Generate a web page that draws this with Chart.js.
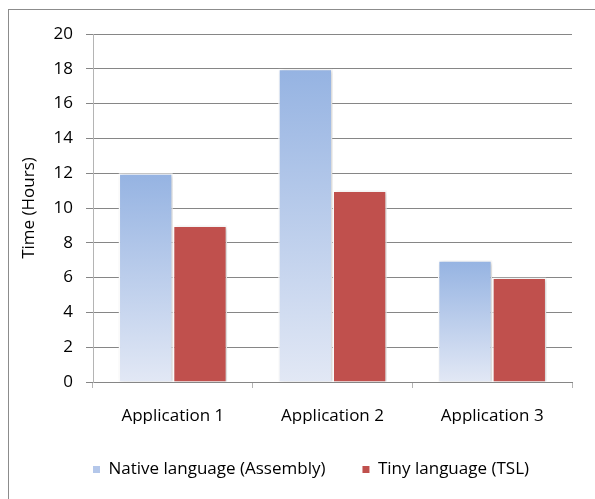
<!DOCTYPE html>
<html>
<head>
<meta charset="utf-8">
<script src="https://cdn.jsdelivr.net/npm/chart.js@4.4.1/dist/chart.umd.min.js"></script>
<style>
  html, body { margin: 0; padding: 0; background: #fff; }
  #wrap { position: relative; width: 595px; height: 499px; }
</style>
</head>
<body>
<div id="wrap"><canvas id="timeChart" width="595" height="499"></canvas></div>
<script>
// --- chart data ---
const categories = ['Application 1', 'Application 2', 'Application 3'];
const seriesNames = ['Native language (Assembly)', 'Tiny language (TSL)'];
const nativeHours = [12, 18, 7];
const tinyHours = [9, 11, 6];
const yTicks = [0, 2, 4, 6, 8, 10, 12, 14, 16, 18, 20];

const font = { family: "'Open Sans', sans-serif", size: 17 };
const gridGray = '#868686';

// blue bars fade from blue at the top to near white at the bottom, per bar
function nativeFill(c) {
  const chart = c.chart;
  const y = chart.scales.y;
  if (!chart.chartArea || !y || c.raw == null) return '#b4c7ea';
  const top = y.getPixelForValue(c.raw);
  const bottom = y.getPixelForValue(0);
  const g = chart.ctx.createLinearGradient(0, top, 0, bottom);
  g.addColorStop(0, '#95b3e2');
  g.addColorStop(1, '#e2e8f5');
  return g;
}

// outer frame, legend nudge, soft bar shadow
const framePlugin = {
  id: 'frame',
  afterLayout(chart) {
    // legend in the original sits a bit right of the plot centre
    chart.legend.left += 25;
    chart.legend.right += 25;
  },
  beforeDraw(chart) {
    const ctx = chart.ctx;
    ctx.save();
    ctx.fillStyle = '#fff';
    ctx.fillRect(0, 0, chart.width, chart.height);
    ctx.strokeStyle = '#8c8c8c';
    ctx.lineWidth = 1;
    ctx.strokeRect(8.5, 9.5, 700, 700);
    ctx.restore();
  },
  beforeDatasetDraw(chart) {
    const ctx = chart.ctx;
    ctx.save();
    ctx.shadowColor = 'rgba(0,0,0,0.18)';
    ctx.shadowBlur = 4;
    ctx.shadowOffsetX = 2;
    ctx.shadowOffsetY = 1;
  },
  afterDatasetDraw(chart) {
    chart.ctx.restore();
  }
};

const ctx = document.getElementById('timeChart').getContext('2d');

new Chart(ctx, {
  type: 'bar',
  data: {
    labels: categories,
    datasets: [
      {
        label: seriesNames[0],
        data: nativeHours,
        backgroundColor: nativeFill,
        borderColor: '#ffffff',
        borderWidth: 1.5,
        categoryPercentage: 0.68,
        barPercentage: 1
      },
      {
        label: seriesNames[1],
        data: tinyHours,
        backgroundColor: '#c0504d',
        borderColor: '#ffffff',
        borderWidth: 1.5,
        categoryPercentage: 0.68,
        barPercentage: 1
      }
    ]
  },
  options: {
    responsive: false,
    animation: false,
    layout: { padding: { top: 34, right: 23, bottom: 11, left: 0 } },
    plugins: {
      tooltip: { enabled: false },
      legend: {
        position: 'bottom',
        labels: {
          font: font,
          color: '#000',
          boxWidth: 7,
          boxHeight: 7,
          padding: 37,
          generateLabels(chart) {
            const items = Chart.defaults.plugins.legend.labels.generateLabels(chart);
            items[0].fillStyle = '#b4c7ea';
            items.forEach(it => { it.strokeStyle = 'rgba(0,0,0,0)'; it.lineWidth = 0; });
            return items;
          }
        }
      }
    },
    scales: {
      x: {
        grid: { drawOnChartArea: false, drawTicks: true, tickLength: 6, color: '#b4b4b4', offset: true },
        border: { color: gridGray },
        ticks: { font: font, color: '#000', padding: 18 },
        afterFit(s) { s.height = 42; }
      },
      y: {
        min: 0,
        max: 20,
        afterBuildTicks(s) { s.ticks = yTicks.map(v => ({ value: v })); },
        grid: { color: gridGray, tickLength: 7 },
        border: { color: '#b4b4b4' },
        ticks: { font: font, color: '#000', padding: 13 },
        title: { display: true, text: 'Time (Hours)', font: font, color: '#000', padding: { top: 19, bottom: 0 } },
        afterFit(s) { s.width = 93; }
      }
    }
  },
  plugins: [framePlugin]
});
</script>
</body>
</html>
